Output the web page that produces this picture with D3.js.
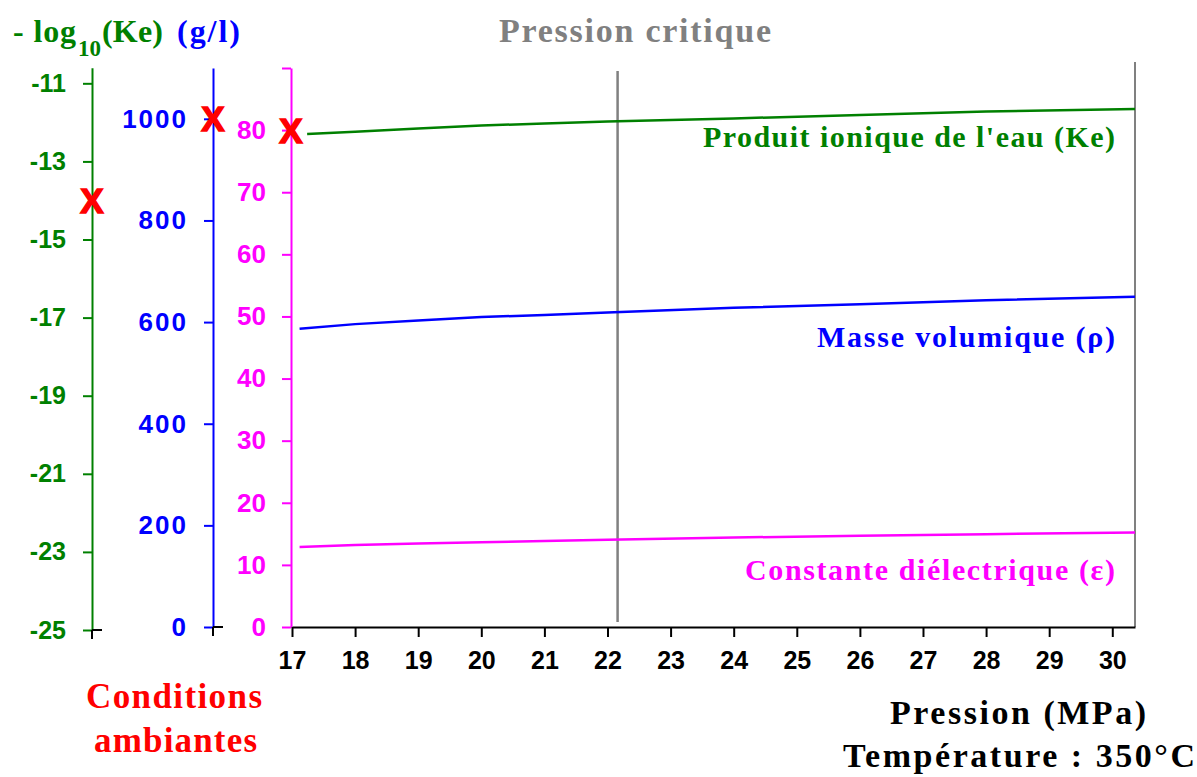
<!DOCTYPE html>
<html>
<head>
<meta charset="utf-8">
<script src="https://cdn.jsdelivr.net/npm/d3@7"></script>
<style>
  body { margin: 0; background: #fff; }
  svg { display: block; }
  .serif { font-family: "Liberation Serif", "Times New Roman", serif; font-weight: bold; }
  .sans { font-family: "Liberation Sans", Arial, sans-serif; font-weight: bold; }
</style>
</head>
<body>
<svg width="1197" height="777"></svg>
<script>
// eau a 350 degC, de 17 a 30 MPa
// valeurs

const pressure = [17.12, 18, 19, 20, 21, 22, 24, 26, 28, 30.36];
const keP = [17.24, 18, 19, 20, 21, 22, 24, 26, 28, 30.36];
const logKe = [-12.30, -12.24, -12.16, -12.08, -12.03, -11.98, -11.90, -11.81, -11.72, -11.66];
const density = [587, 596, 603, 610, 614, 619, 628, 635, 643, 650];
const dielectric = [12.9, 13.2, 13.45, 13.65, 13.85, 14.05, 14.4, 14.7, 14.95, 15.2];

const pCritique = 22.16;
// conditions ambiantes
const ambKe = -14, ambRho = 1000, ambEps = 80;

const xTicks = d3.range(17, 31);
const keTicks = [-25, -23, -21, -19, -17, -15, -13, -11];
const rhoTicks = [0, 200, 400, 600, 800, 1000];
const epsTicks = [0, 10, 20, 30, 40, 50, 60, 70, 80, 90];

const GREEN = '#008000', BLUE = '#0000ff', MAGENTA = '#ff00ff', GREY = '#808080', RED = '#ff0000';

const svg = d3.select('svg');

const x = d3.scaleLinear().domain([17, 30.36]).range([292, 1135]);
const yKe = d3.scaleLinear().domain([-25, -10.6]).range([630, 67.7]);
const yRho = d3.scaleLinear().domain([0, 1100]).range([627, 68]);
const yEps = d3.scaleLinear().domain([0, 90]).range([627, 68]);

const keX = 92, rhoX = 213, epsX = 291;
const fmt = d => String(d); // tiret simple, pas de separateur de milliers

// cadre droit + pression critique
svg.append('line')
	.attr('x1', x.range()[1]).attr('x2', x.range()[1])
	.attr('y1', 62).attr('y2', 627)
	.attr('stroke', GREY).attr('stroke-width', 2);

svg.append('line')
	.attr('x1', x(pCritique)).attr('x2', x(pCritique))
	.attr('y1', 71).attr('y2', 622)
	.attr('stroke', GREY).attr('stroke-width', 2.5);

svg.append('text').attr('class', 'serif')
	.attr('x', 499).attr('y', 42)
	.attr('font-size', 34).attr('fill', GREY)
	.attr('textLength', 272).attr('lengthAdjust', 'spacing')
	.text('Pression critique');

function styleAxis(g, color, size) {
	g.select('.domain').attr('stroke', color).attr('stroke-width', 2);
	g.selectAll('.tick line').attr('stroke', color).attr('stroke-width', 2);
	g.selectAll('.tick text').attr('fill', color)
		.attr('class', 'sans').attr('font-size', size);
}

// axe -log10(Ke)
const gKe = svg.append('g').attr('transform', `translate(${keX},0)`)
	.call(d3.axisLeft(yKe).tickValues(keTicks).tickSize(9).tickSizeOuter(0).tickPadding(17).tickFormat(fmt));
styleAxis(gKe, GREEN, 25);

// axe masse volumique
const gRho = svg.append('g').attr('transform', `translate(${rhoX},0)`)
	.call(d3.axisLeft(yRho).tickValues(rhoTicks).tickSize(9).tickSizeOuter(0).tickPadding(16).tickFormat(fmt));
styleAxis(gRho, BLUE, 26);
gRho.selectAll('.tick text').attr('letter-spacing', 2);

// axe constante dielectrique
const gEps = svg.append('g').attr('transform', `translate(${epsX},0)`)
	.call(d3.axisLeft(yEps).tickValues(epsTicks).tickSize(9).tickSizeOuter(0).tickPadding(16)
		.tickFormat(d => d == 90 ? '' : fmt(d)));
styleAxis(gEps, MAGENTA, 26);

// axe pression
const gX = svg.append('g').attr('transform', `translate(0,${yEps(0)})`)
	.call(d3.axisBottom(x).tickValues(xTicks).tickSize(10).tickSizeOuter(0).tickPadding(14).tickFormat(fmt));
styleAxis(gX, '#000', 25);

// petits bouts noirs en bas des axes gauches
[[keX, yKe(-25)], [rhoX, yRho(0)]].forEach(([px, py]) => {
	svg.append('path')
		.attr('d', `M${px},${py}H${px + 10}M${px},${py}V${py + 9}`)
		.attr('stroke', '#000').attr('stroke-width', 2).attr('fill', 'none');
});

// courbes
const lineKe = d3.line().x((d, i) => x(keP[i])).y(d => yKe(d));
const lineRho = d3.line().x((d, i) => x(pressure[i])).y(d => yRho(d));
const lineEps = d3.line().x((d, i) => x(pressure[i])).y(d => yEps(d));

svg.append('path').attr('d', lineKe(logKe))
	.attr('fill', 'none').attr('stroke', GREEN).attr('stroke-width', 2.5);
svg.append('path').attr('d', lineRho(density))
	.attr('fill', 'none').attr('stroke', BLUE).attr('stroke-width', 2.5);
svg.append('path').attr('d', lineEps(dielectric))
	.attr('fill', 'none').attr('stroke', MAGENTA).attr('stroke-width', 2.5);

// croix rouges
[[keX, yKe(ambKe)], [rhoX, yRho(ambRho)], [epsX, yEps(ambEps)]].forEach(([px, py]) => {
	svg.append('text').attr('class', 'sans')
		.attr('x', px).attr('y', py).attr('dy', '0.36em')
		.attr('text-anchor', 'middle')
		.attr('font-size', 35).attr('fill', RED)
		.attr('stroke', RED).attr('stroke-width', 1.5)
		.text('X');
});

// titres des axes
svg.append('text').attr('class', 'serif')
	.attr('x', 13).attr('y', 42).attr('font-size', 32).attr('fill', GREEN)
	.attr('textLength', 63).attr('lengthAdjust', 'spacing')
	.text('- log');
svg.append('text').attr('class', 'serif')
	.attr('x', 78).attr('y', 56).attr('font-size', 23).attr('fill', GREEN)
	.text('10');
svg.append('text').attr('class', 'serif')
	.attr('x', 102).attr('y', 42).attr('font-size', 32).attr('fill', GREEN)
	.attr('textLength', 61).attr('lengthAdjust', 'spacing')
	.text('(Ke)');
svg.append('text').attr('class', 'serif')
	.attr('x', 177).attr('y', 42).attr('font-size', 32).attr('fill', BLUE)
	.attr('textLength', 63).attr('lengthAdjust', 'spacing')
	.text('(g/l)');

// etiquettes des courbes
const labels = [
	{t: "Produit ionique de l'eau (Ke)", x: 703, w: 412, y: 147, c: GREEN},
	{t: 'Masse volumique  (\u03c1)', x: 817, w: 298, y: 347, c: BLUE},
	{t: 'Constante di\u00e9lectrique (\u03b5)', x: 745, w: 370, y: 580, c: MAGENTA},
	{t: 'Conditions', x: 86, w: 176, y: 708, c: RED, s: 35},
	{t: 'ambiantes', x: 94, w: 163, y: 752, c: RED, s: 35},
	{t: 'Pression  (MPa)', x: 890, w: 256, y: 724, c: '#000', s: 34},
	{t: 'Temp\u00e9rature :  350\u00b0C', x: 843, w: 352, y: 767, c: '#000', s: 34}
];

svg.selectAll('.lab').data(labels).enter().append('text')
	.attr('class', 'serif lab')
	.attr('x', d => d.x).attr('y', d => d.y)
	.attr('font-size', d => d.s || 30)
	.attr('fill', d => d.c)
	.attr('textLength', d => d.w).attr('lengthAdjust', 'spacing')
	.text(d => d.t);
</script>
</body>
</html>
